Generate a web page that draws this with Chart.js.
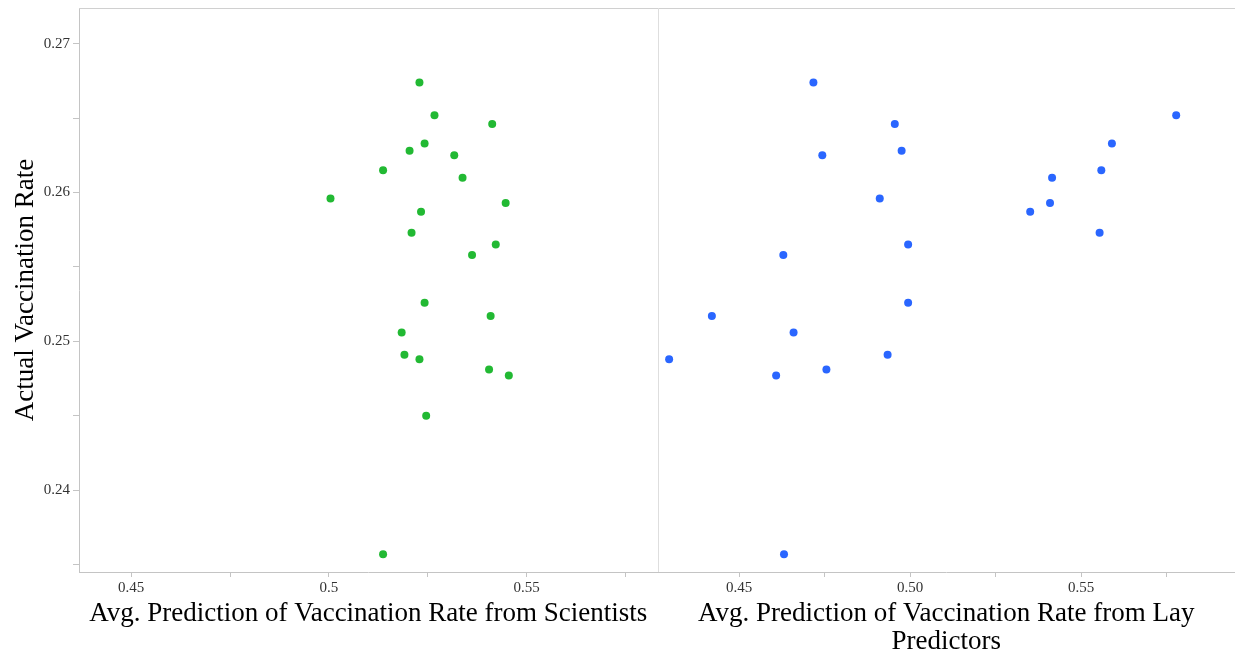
<!DOCTYPE html>
<html>
<head>
<meta charset="utf-8">
<script src="https://cdn.jsdelivr.net/npm/chart.js@4/dist/chart.umd.min.js"></script>
<style>
  html, body { margin: 0; padding: 0; background: #fff; }
  #wrap { width: 1235px; height: 660px; position: relative; }
</style>
</head>
<body>
<div id="wrap"><canvas id="c" width="1235" height="660"></canvas></div>
<script>
// Actual vaccination rate (shared y values)
const actualRateSci = [0.2674, 0.2652, 0.2646, 0.2633, 0.2628, 0.2625, 0.2615, 0.2610, 0.2596, 0.2593, 0.2587, 0.2573, 0.2565, 0.2558, 0.2526, 0.2517, 0.2506, 0.2491, 0.2488, 0.2481, 0.2477, 0.2450, 0.2357];
const scientistPred = [0.5229, 0.5267, 0.5413, 0.5242, 0.5204, 0.5317, 0.5137, 0.5338, 0.5004, 0.5447, 0.5233, 0.5209, 0.5422, 0.5362, 0.5242, 0.5409, 0.5184, 0.5191, 0.5229, 0.5405, 0.5455, 0.5246, 0.5137];

const actualRateLay = [0.2674, 0.2652, 0.2646, 0.2633, 0.2628, 0.2625, 0.2615, 0.2610, 0.2596, 0.2593, 0.2587, 0.2573, 0.2565, 0.2558, 0.2526, 0.2517, 0.2506, 0.2491, 0.2488, 0.2481, 0.2477, 0.2357];
const layPred = [0.4717, 0.5778, 0.4955, 0.5590, 0.4975, 0.4743, 0.5559, 0.5415, 0.4911, 0.5409, 0.5351, 0.5554, 0.4994, 0.4629, 0.4994, 0.4420, 0.4659, 0.4934, 0.4295, 0.4755, 0.4608, 0.4631];

const yTitle = 'Actual Vaccination Rate';
const xTitleSci = 'Avg. Prediction of Vaccination Rate from Scientists';
const xTitleLay = ['Avg. Prediction of Vaccination Rate from Lay', 'Predictors'];

const FONT = "'Liberation Serif', 'Times New Roman', serif";
const AXIS_GRAY = '#c4c4c4';

const toPts = (xs, ys) => xs.map((x, i) => ({x: x, y: ys[i]}));

const framePlugin = {
  id: 'frame',
  afterDraw(chart) {
    const {ctx, chartArea} = chart;
    ctx.save();
    ctx.lineWidth = 1;
    ctx.strokeStyle = '#d0d0d0';
    const yt = Math.round(chartArea.top) + 0.5;
    ctx.beginPath();
    ctx.moveTo(chartArea.left, yt);
    ctx.lineTo(chartArea.right, yt);
    ctx.stroke();
    const xd = Math.round(chart.scales.x2.left) + 0.5;
    ctx.strokeStyle = '#dedede';
    ctx.beginPath();
    ctx.moveTo(xd, chartArea.top);
    ctx.lineTo(xd, chartArea.bottom);
    ctx.stroke();
    ctx.restore();
  }
};

const tickFont = {family: FONT, size: 15};
const titleFont = {family: FONT, size: 27, lineHeight: 1.04};
const fitX = (s) => { s.height = 88; s.paddingLeft = 0; s.paddingRight = 0; };

new Chart(document.getElementById('c'), {
  type: 'scatter',
  data: {
    datasets: [
      {
        label: 'Scientists',
        data: toPts(scientistPred, actualRateSci),
        xAxisID: 'x1', yAxisID: 'y',
        backgroundColor: '#22b933', borderColor: '#22b933', borderWidth: 0,
        pointRadius: 4, pointHoverRadius: 4
      },
      {
        label: 'Lay Predictors',
        data: toPts(layPred, actualRateLay),
        xAxisID: 'x2', yAxisID: 'y',
        backgroundColor: '#2a66ff', borderColor: '#2a66ff', borderWidth: 0,
        pointRadius: 4, pointHoverRadius: 4
      }
    ]
  },
  options: {
    responsive: false,
    animation: false,
    layout: {autoPadding: false, padding: {left: 0, right: 0, top: 8, bottom: 0}},
    plugins: {legend: {display: false}, tooltip: {enabled: false}},
    scales: {
      y: {
        type: 'linear', position: 'left',
        min: 0.2345, max: 0.2724,
        afterFit: (s) => { s.width = 79; s.paddingTop = 0; s.paddingBottom = 0; },
        grid: {drawOnChartArea: false, drawTicks: true, tickLength: 6, color: AXIS_GRAY},
        border: {color: AXIS_GRAY},
        ticks: {
          stepSize: 0.005, includeBounds: false, autoSkip: false, padding: 3,
          color: '#333', font: tickFont,
          callback: (v) => (Math.round(v * 1000) % 10 === 0 ? v.toFixed(2) : '')
        },
        title: {display: true, text: yTitle, color: '#000', font: titleFont, padding: {top: 12, bottom: 0}}
      },
      x1: {
        type: 'linear', position: 'bottom', stack: 'xs', stackWeight: 578.5,
        min: 0.4368, max: 0.5831,
        afterFit: fitX,
        grid: {drawOnChartArea: false, drawTicks: true, tickLength: 5, color: AXIS_GRAY},
        border: {color: AXIS_GRAY},
        ticks: {
          stepSize: 0.025, includeBounds: false, autoSkip: false, maxRotation: 0, padding: 2,
          color: '#333', font: tickFont,
          callback: (v) => (Math.round(v * 1000) % 50 === 0 ? String(+v.toFixed(2)) : '')
        },
        title: {display: true, text: xTitleSci, color: '#000', font: titleFont, padding: {top: 3, bottom: 32}}
      },
      x2: {
        type: 'linear', position: 'bottom', stack: 'xs', stackWeight: 577.5,
        min: 0.4261, max: 0.5950,
        afterFit: fitX,
        grid: {drawOnChartArea: false, drawTicks: true, tickLength: 5, color: AXIS_GRAY},
        border: {color: AXIS_GRAY},
        ticks: {
          stepSize: 0.025, includeBounds: false, autoSkip: false, maxRotation: 0, padding: 2,
          color: '#333', font: tickFont,
          callback: (v) => (Math.round(v * 1000) % 50 === 0 ? v.toFixed(2) : '')
        },
        title: {display: true, text: xTitleLay, color: '#000', font: titleFont, padding: {top: 3, bottom: 4}}
      }
    }
  },
  plugins: [framePlugin]
});
</script>
</body>
</html>
